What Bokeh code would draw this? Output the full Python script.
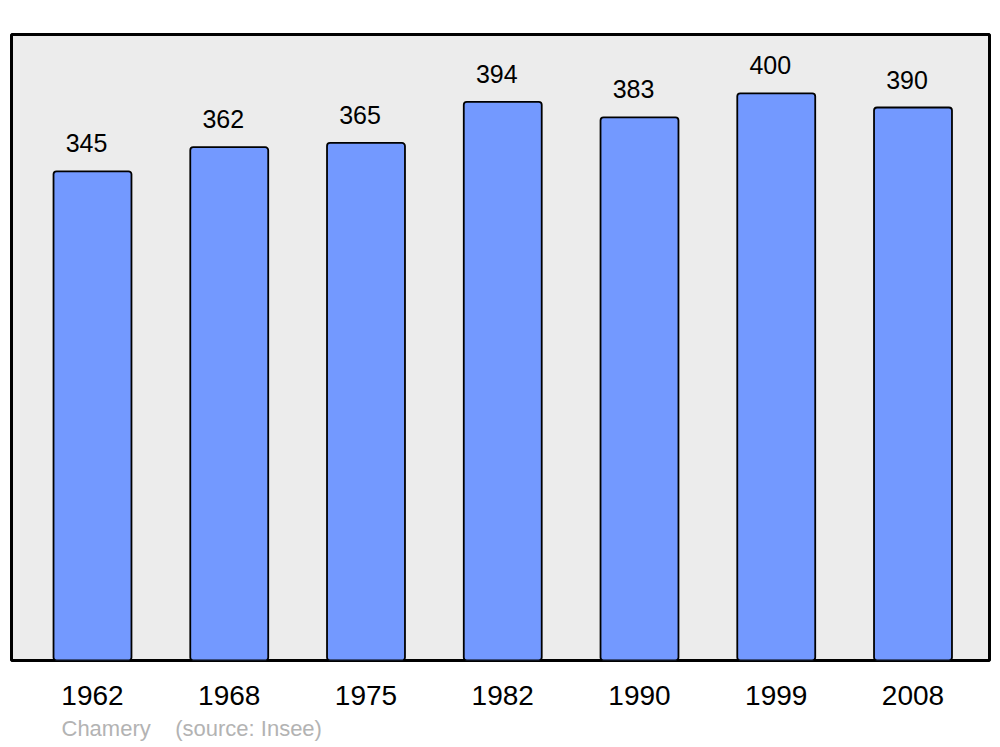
from bokeh.plotting import figure
from bokeh.models import ColumnDataSource, Range1d, FixedTicker, Title
from bokeh.core.properties import value
from bokeh.embed import file_html
from bokeh.resources import INLINE

years = ["1962", "1968", "1975", "1982", "1990", "1999", "2008"]
population = [345, 362, 365, 394, 383, 400, 390]
commune = "Chamery"
source_note = "(source: Insee)"

idx = list(range(len(years)))
src = ColumnDataSource(dict(x=idx, top=population, label=[str(v) for v in population]))

p = figure(width=1000, height=747, output_backend="svg", toolbar_location=None,
           x_range=Range1d(-0.5923, 6.5594), y_range=Range1d(0, 441.5))
p.min_border_left = 11
p.min_border_right = 11
p.min_border_top = 34
p.min_border_bottom = 87
p.background_fill_color = "#ececec"
p.border_fill_color = "white"
p.outline_line_color = "black"
p.outline_line_width = 3
p.grid.visible = False
p.yaxis.visible = False

p.vbar(x="x", top="top", bottom=0, width=0.57, source=src,
       fill_color="#7399ff", line_color="black", line_width=1.8, border_radius=3)

p.text(x="x", y="top", text="label", source=src, x_offset=-6, y_offset=-28,
       text_align="center", text_baseline="alphabetic",
       text_font=value("Liberation Sans"), text_font_size="25px", text_color="black")

ax = p.xaxis[0]
ax.ticker = FixedTicker(ticks=idx)
ax.major_label_overrides = {i: y for i, y in enumerate(years)}
ax.axis_line_color = None
ax.major_tick_line_color = None
ax.minor_tick_line_color = None
ax.major_label_standoff = 19
ax.major_label_text_font = "Liberation Sans"
ax.major_label_text_font_size = "28px"
ax.major_label_text_color = "black"

cap = Title(text=commune + " \u00a0\u00a0 " + source_note, align="left", offset=50,
            text_font="Liberation Sans", text_font_size="22px", text_color="#b3b3b3",
            text_font_style="normal", standoff=12)
p.add_layout(cap, "below")

open("out.html", "w").write(file_html(p, INLINE))
